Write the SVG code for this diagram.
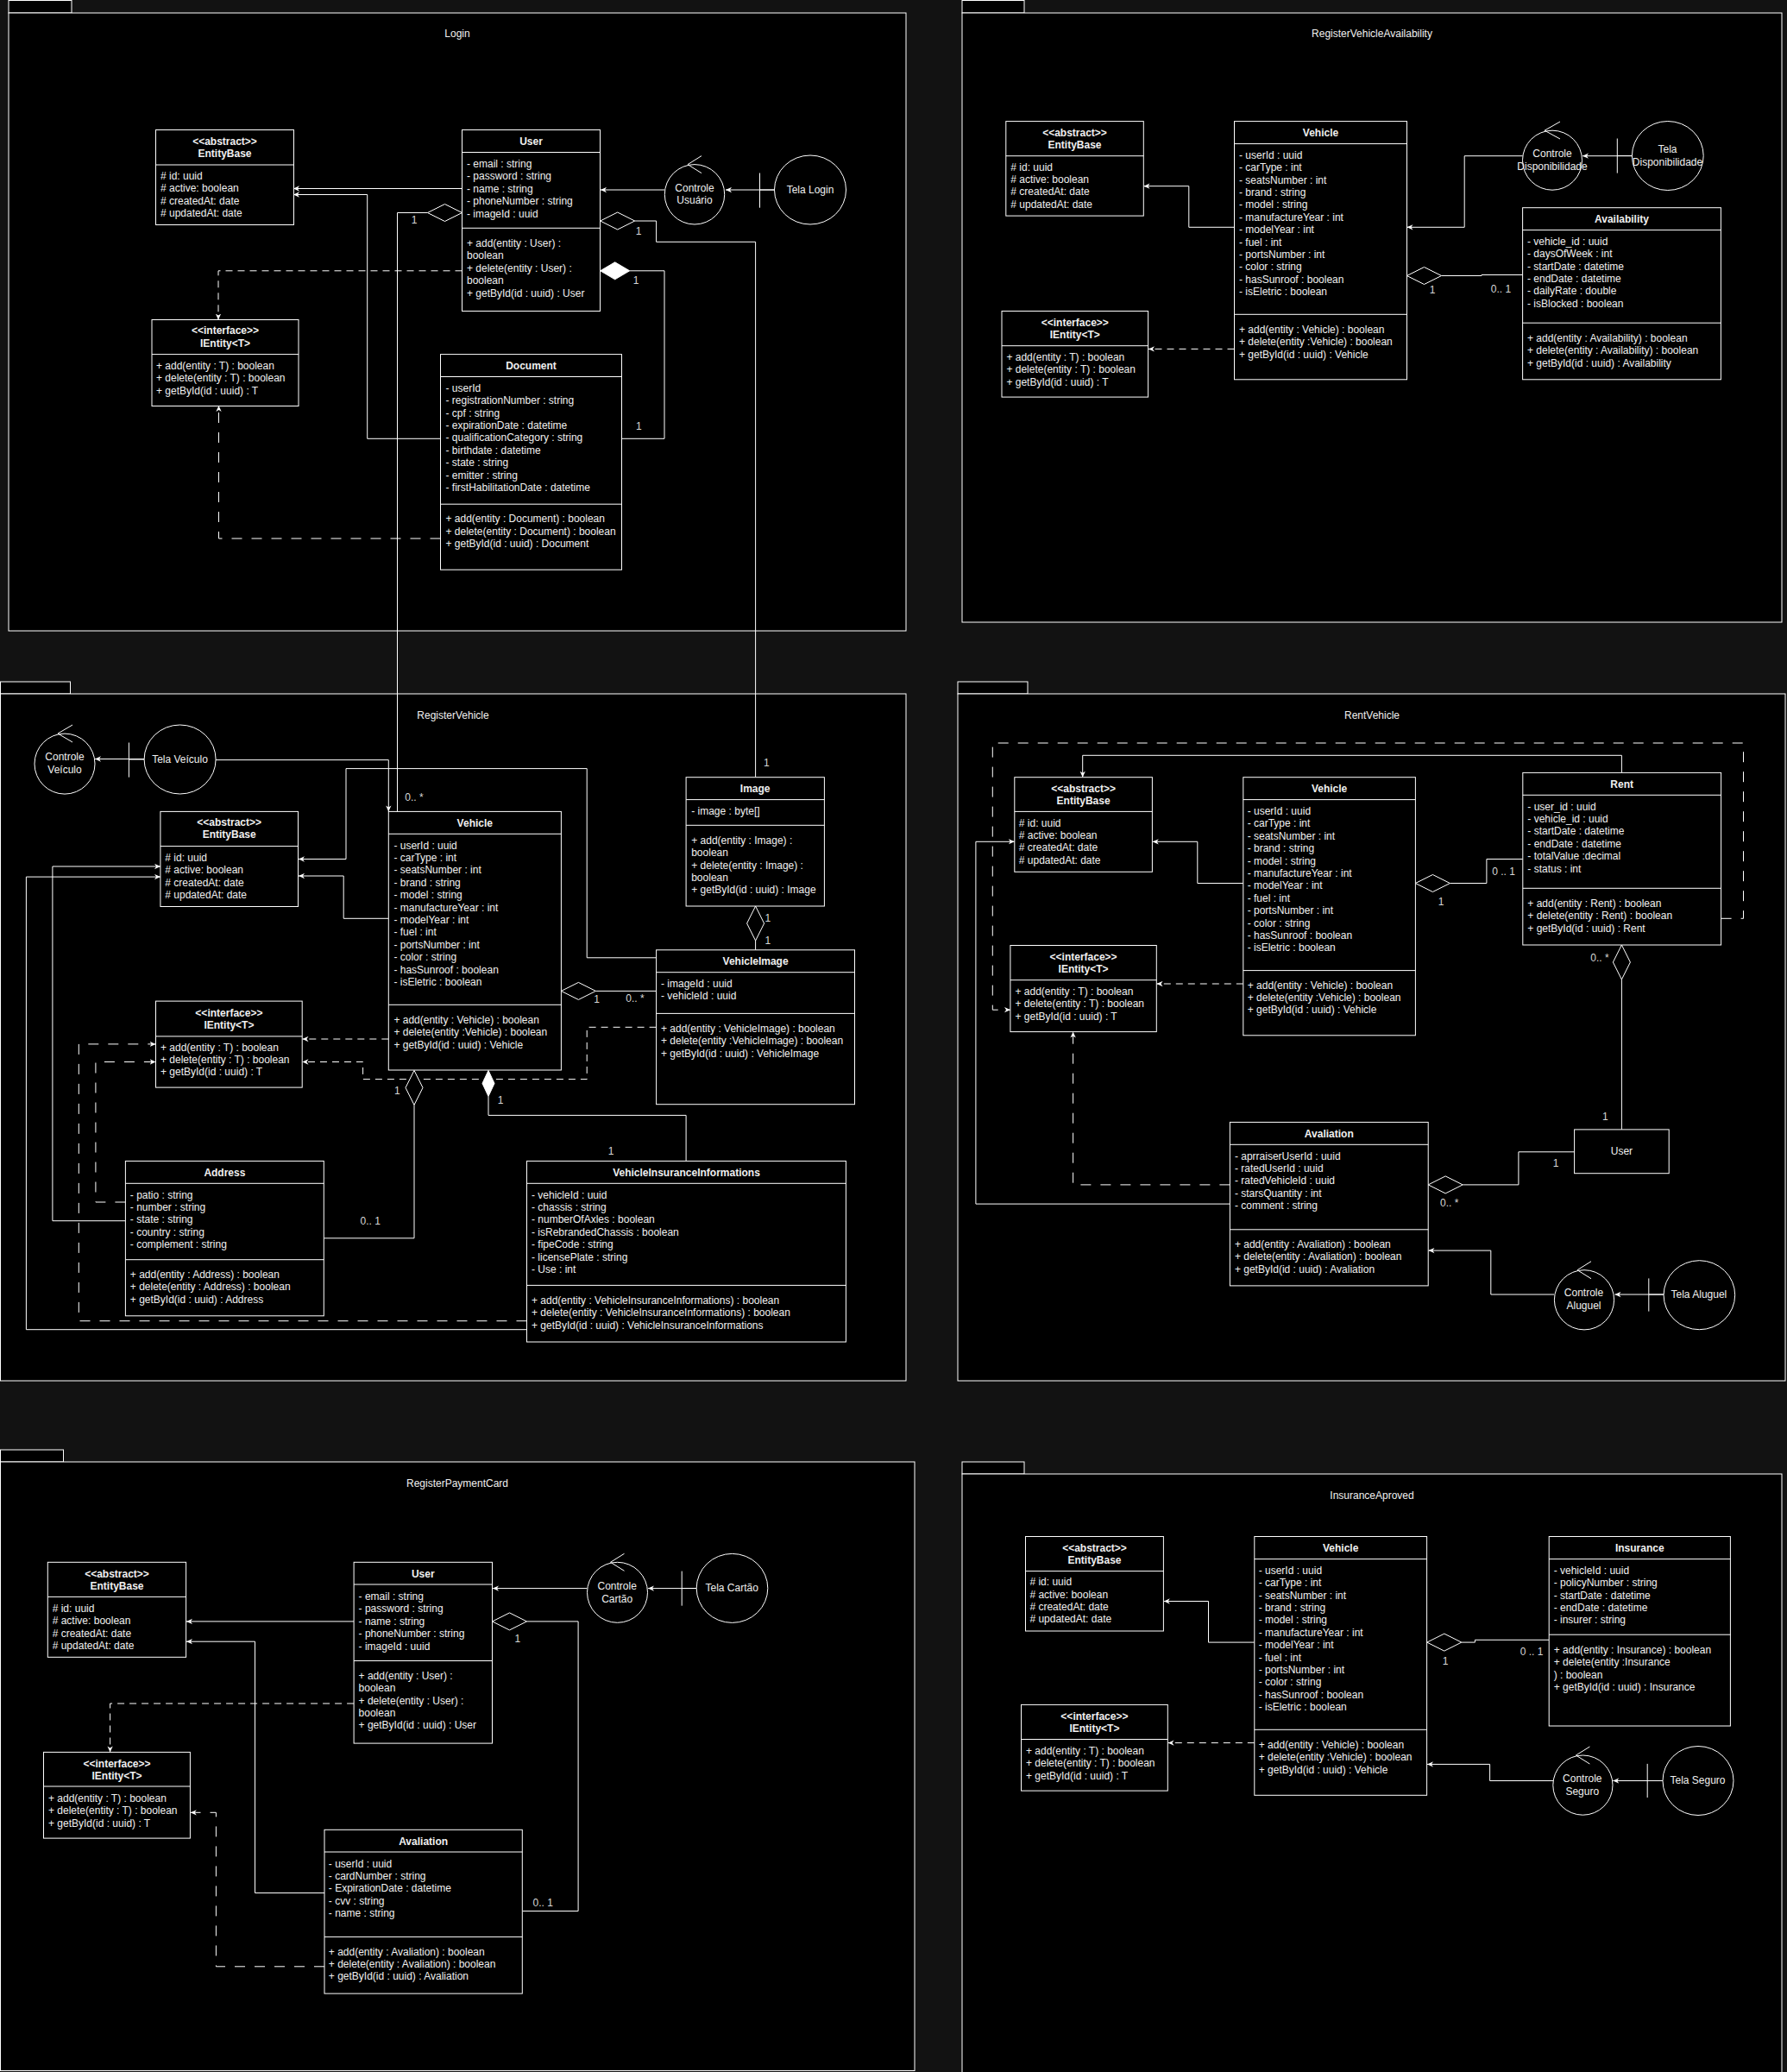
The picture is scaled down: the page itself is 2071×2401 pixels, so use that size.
<svg xmlns="http://www.w3.org/2000/svg" width="2071" height="2401" viewBox="0 0 2071 2401">
<defs>
<style>
.t{font-family:"Liberation Sans",Arial,Helvetica,sans-serif;font-size:12px;fill:#f0f0f0}
.b{font-weight:bold}
.c{text-anchor:middle}
.pk{fill:#000;stroke:#fff;stroke-width:1}
.box{fill:#000;stroke:#fff;stroke-width:1}
.sep{stroke:#fff;stroke-width:1}
.ln{fill:none;stroke:#fff;stroke-width:1}
.ar{marker-end:url(#arr)}
.d1{stroke-dasharray:8 6}
.d2{stroke-dasharray:12 11}
.dia{fill:#000;stroke:#fff;stroke-width:1}
.fdia{fill:#fff;stroke:#fff;stroke-width:1}
.lbl{font-family:"Liberation Sans",Arial,Helvetica,sans-serif;font-size:12px;fill:#d8d8d8;text-anchor:middle}
</style>
<marker id="arr" viewBox="0 0 10 10" refX="10" refY="5" markerWidth="7" markerHeight="7" orient="auto" markerUnits="userSpaceOnUse">
<path d="M0,0.5 L10,5 L0,9.5 L3,5 Z" fill="#fff"/>
</marker>
</defs>

<rect x="0" y="0" width="2071" height="2401" fill="#121212"/>

<!-- package frames -->
<g id="packages">
<rect class="pk" x="10" y="0.5" width="73" height="14.5"/>
<rect class="pk" x="10" y="15" width="1040" height="716"/>
<rect class="pk" x="1115" y="0.5" width="72" height="14.5"/>
<rect class="pk" x="1115" y="15" width="950" height="706"/>
<rect class="pk" x="0.5" y="790" width="81" height="14"/>
<rect class="pk" x="0.5" y="804" width="1049.5" height="796"/>
<rect class="pk" x="1110" y="790" width="81" height="14"/>
<rect class="pk" x="1110" y="804" width="959" height="796"/>
<rect class="pk" x="0.5" y="1680" width="73" height="14"/>
<rect class="pk" x="0.5" y="1694" width="1059.5" height="705.5"/>
<rect class="pk" x="1115" y="1694" width="72" height="14"/>
<rect class="pk" x="1115" y="1708" width="950" height="720"/>
<text class="t c" x="530" y="43">Login</text>
<text class="t c" x="1590" y="43">RegisterVehicleAvailability</text>
<text class="t c" x="525" y="833">RegisterVehicle</text>
<text class="t c" x="1590" y="833">RentVehicle</text>
<text class="t c" x="530" y="1723">RegisterPaymentCard</text>
<text class="t c" x="1590" y="1737">InsuranceAproved</text>
</g>

<!-- connectors -->
<g id="connectors">
<!-- Login -->
<path class="ln ar" d="M535.5,218.5 H340"/>
<path class="ln ar" d="M510.5,508.3 H425.7 V225.5 H340"/>
<path class="ln d1 ar" d="M535.5,313.8 H253 V370.5"/>
<path class="ln d2 ar" d="M510.5,624 H253.5 V470"/>
<polygon class="dia" points="535.5,246.5 515.5,236.5 495.5,246.5 515.5,256.5"/>
<path class="ln" d="M495.5,246.5 H460.5 V940.4"/>
<polygon class="dia" points="695.7,256 715.7,246 735.7,256 715.7,266"/>
<path class="ln" d="M735.7,256 H760.6 V280.3 H875.6 V900.7"/>
<polygon class="fdia" points="695.7,313.8 712.7,303.8 729.7,313.8 712.7,323.8"/>
<path class="ln" d="M729.7,313.8 H770 V508.3 H720.5"/>
<path class="ln ar" d="M897.5,220 H841"/>
<path class="ln ar" d="M770,220 H696"/>
<text class="lbl" x="480" y="259">1</text>
<text class="lbl" x="740" y="271.6">1</text>
<text class="lbl" x="737" y="328.7">1</text>
<text class="lbl" x="740.4" y="498">1</text>

<!-- RegisterVehicleAvailability -->
<path class="ln ar" d="M1891.4,180.7 H1834"/>
<path class="ln ar" d="M1764.6,180.7 H1697.2 V263.3 H1630.5"/>
<path class="ln ar" d="M1430.5,263.3 H1377.8 V215.7 H1325.5"/>
<path class="ln d1 ar" d="M1430.5,404.4 H1331"/>
<polygon class="dia" points="1630.5,319.5 1650.5,309.5 1670.5,319.5 1650.5,329.5"/>
<path class="ln" d="M1670.5,319.5 H1717 V318.5 H1765"/>
<text class="lbl" x="1660" y="339.5">1</text>
<text class="lbl" x="1739.4" y="338.6">0.. 1</text>

<!-- RegisterVehicle -->
<path class="ln ar" d="M167.5,879.5 H110"/>
<path class="ln ar" d="M250,880.6 H450.3 V940.4"/>
<path class="ln ar" d="M760.6,1109.8 H680.2 V890.6 H401 V995.5 H346"/>
<path class="ln ar" d="M450.3,1064.3 H398.2 V1015 H346"/>
<path class="ln ar" d="M145.4,1414.7 H60.9 V1004 H186"/>
<path class="ln ar" d="M610.5,1540.7 H30.4 V1016.1 H186"/>
<path class="ln d2 ar" d="M610.5,1530.7 H91.3 V1209.9 H180.5"/>
<path class="ln d2 ar" d="M145.4,1393 H110.9 V1230.5 H180.5"/>
<path class="ln d1 ar" d="M450.3,1204 H350.5"/>
<path class="ln d1 ar" d="M760.6,1190.3 H680.2 V1250.6 H420.6 V1230.5 H350.5"/>
<polygon class="dia" points="480,1240.4 490,1260.4 480,1280.4 470,1260.4"/>
<path class="ln" d="M480,1280.4 V1434.8 H375.4"/>
<polygon class="fdia" points="566,1240.4 573,1255.4 566,1270.4 559,1255.4"/>
<path class="ln" d="M566,1270.4 V1292.4 H795.1 V1345.4"/>
<polygon class="dia" points="650.4,1148.4 670.4,1138.4 690.4,1148.4 670.4,1158.4"/>
<path class="ln" d="M690.4,1148.4 H760.6"/>
<polygon class="dia" points="875.6,1050 885.6,1070 875.6,1090 865.6,1070"/>
<path class="ln" d="M875.6,1090 V1100.8"/>
<text class="lbl" x="480" y="928">0.. *</text>
<text class="lbl" x="888.4" y="888.3">1</text>
<text class="lbl" x="460.4" y="1268.4">1</text>
<text class="lbl" x="429.3" y="1418.7">0.. 1</text>
<text class="lbl" x="580" y="1279">1</text>
<text class="lbl" x="708" y="1338.3">1</text>
<text class="lbl" x="691.5" y="1161.5">1</text>
<text class="lbl" x="736" y="1161">0.. *</text>
<text class="lbl" x="889.8" y="1068.3">1</text>
<text class="lbl" x="889.8" y="1093.7">1</text>

<!-- RentVehicle -->
<path class="ln ar" d="M1928,1500 H1871.5"/>
<path class="ln ar" d="M1801,1500 H1727.8 V1449.1 H1655.5"/>
<path class="ln ar" d="M1440.8,1023.5 H1387.8 V975.3 H1335.8"/>
<path class="ln ar" d="M1879.4,895.4 V875.3 H1254.7 V900.7"/>
<path class="ln d2 ar" d="M1994.6,1064.3 H2020.5 V861 H1150.3 V1170.2 H1171"/>
<path class="ln ar" d="M1425.4,1395.1 H1130.9 V975.3 H1175.8"/>
<path class="ln d2 ar" d="M1425.4,1372.9 H1243.6 V1195.6"/>
<path class="ln d1 ar" d="M1440.8,1140 H1340.6"/>
<polygon class="dia" points="1640.4,1023.5 1660.4,1013.5 1680.4,1023.5 1660.4,1033.5"/>
<path class="ln" d="M1680.4,1023.5 H1722.9 V995.5 H1764.8"/>
<polygon class="dia" points="1879.4,1095 1889.4,1115 1879.4,1135 1869.4,1115"/>
<path class="ln" d="M1879.4,1135 V1308.9"/>
<polygon class="dia" points="1655.2,1372.9 1675.2,1362.9 1695.2,1372.9 1675.2,1382.9"/>
<path class="ln" d="M1695.2,1372.9 H1759.9 V1334.8 H1824.6"/>
<text class="lbl" x="1670" y="1048.7">1</text>
<text class="lbl" x="1742.6" y="1013.8">0 .. 1</text>
<text class="lbl" x="1854" y="1114.3">0.. *</text>
<text class="lbl" x="1860.3" y="1298">1</text>
<text class="lbl" x="1679.8" y="1398">0.. *</text>
<text class="lbl" x="1803" y="1352">1</text>

<!-- RegisterPaymentCard -->
<path class="ln ar" d="M807.3,1840.6 H751"/>
<path class="ln ar" d="M680.4,1840.6 H571"/>
<path class="ln ar" d="M410.1,1878.9 H216"/>
<path class="ln ar" d="M376,2193.5 H295.5 V1902.2 H216"/>
<path class="ln d1 ar" d="M410.1,1974 H127.6 V2030.4"/>
<path class="ln d2 ar" d="M376,2278.8 H250.4 V2100.3 H220.8"/>
<polygon class="dia" points="570.5,1878.9 590.5,1868.9 610.5,1878.9 590.5,1888.9"/>
<path class="ln" d="M610.5,1878.9 H670.1 V2214.5 H605.3"/>
<text class="lbl" x="599.8" y="1903.4">1</text>
<text class="lbl" x="629.2" y="2208.7">0.. 1</text>

<!-- InsuranceAproved -->
<path class="ln ar" d="M1927,2063.5 H1869.3"/>
<path class="ln ar" d="M1800,2063.5 H1726.6 V2044.4 H1654"/>
<path class="ln ar" d="M1453.8,1903.1 H1400.5 V1855.5 H1348.8"/>
<path class="ln d1 ar" d="M1453.8,2019.6 H1353.6"/>
<polygon class="dia" points="1653.8,1903.1 1673.8,1893.1 1693.8,1903.1 1673.8,1913.1"/>
<path class="ln" d="M1693.8,1903.1 H1709.4 V1900.3 H1795.2"/>
<text class="lbl" x="1675" y="1928.5">1</text>
<text class="lbl" x="1775" y="1918.3">0 .. 1</text>
</g>

<!-- ===== Login ===== -->
<g id="login-entitybase">
<rect class="box" x="180.5" y="150.5" width="160" height="110"/>
<line class="sep" x1="180.5" y1="191" x2="340.5" y2="191"/>
<text class="t b c" x="260.5" y="168">&lt;&lt;abstract&gt;&gt;</text>
<text class="t b c" x="260.5" y="182">EntityBase</text>
<text class="t" x="186" y="208"><tspan x="186"># id: uuid</tspan><tspan x="186" dy="14.4"># active: boolean</tspan><tspan x="186" dy="14.4"># createdAt: date</tspan><tspan x="186" dy="14.4"># updatedAt: date</tspan></text>
</g>
<g id="login-user">
<rect class="box" x="535.5" y="150.5" width="160" height="210"/>
<line class="sep" x1="535.5" y1="176.5" x2="695.5" y2="176.5"/>
<line class="sep" x1="535.5" y1="264.3" x2="695.5" y2="264.3"/>
<text class="t b c" x="615.5" y="168">User</text>
<text class="t" x="541" y="194"><tspan x="541">- email : string</tspan><tspan x="541" dy="14.4">- password : string</tspan><tspan x="541" dy="14.4">- name : string</tspan><tspan x="541" dy="14.4">- phoneNumber : string</tspan><tspan x="541" dy="14.4">- imageId : uuid</tspan></text>
<text class="t" x="541" y="286"><tspan x="541">+ add(entity : User) :</tspan><tspan x="541" dy="14.4">boolean</tspan><tspan x="541" dy="14.4">+ delete(entity : User) :</tspan><tspan x="541" dy="14.4">boolean</tspan><tspan x="541" dy="14.4">+ getById(id : uuid) : User</tspan></text>
</g>
<g id="login-ientity">
<rect class="box" x="176" y="370.5" width="170" height="100"/>
<line class="sep" x1="176" y1="410.6" x2="346" y2="410.6"/>
<text class="t b c" x="261" y="387">&lt;&lt;interface&gt;&gt;</text>
<text class="t b c" x="261" y="401.5">IEntity&lt;T&gt;</text>
<text class="t" x="181" y="428"><tspan x="181">+ add(entity : T) : boolean</tspan><tspan x="181" dy="14.4">+ delete(entity : T) : boolean</tspan><tspan x="181" dy="14.4">+ getById(id : uuid) : T</tspan></text>
</g>
<g id="login-document">
<rect class="box" x="510.5" y="410.6" width="210" height="249.6"/>
<line class="sep" x1="510.5" y1="436.5" x2="720.5" y2="436.5"/>
<line class="sep" x1="510.5" y1="584.2" x2="720.5" y2="584.2"/>
<text class="t b c" x="615.5" y="428">Document</text>
<text class="t" x="516.5" y="453.7"><tspan x="516.5">- userId</tspan><tspan x="516.5" dy="14.4">- registrationNumber : string</tspan><tspan x="516.5" dy="14.4">- cpf : string</tspan><tspan x="516.5" dy="14.4">- expirationDate : datetime</tspan><tspan x="516.5" dy="14.4">- qualificationCategory : string</tspan><tspan x="516.5" dy="14.4">- birthdate : datetime</tspan><tspan x="516.5" dy="14.4">- state : string</tspan><tspan x="516.5" dy="14.4">- emitter : string</tspan><tspan x="516.5" dy="14.4">- firstHabilitationDate : datetime</tspan></text>
<text class="t" x="516.5" y="605.2"><tspan x="516.5">+ add(entity : Document) : boolean</tspan><tspan x="516.5" dy="14.4">+ delete(entity : Document) : boolean</tspan><tspan x="516.5" dy="14.4">+ getById(id : uuid) : Document</tspan></text>
</g>
<g id="login-controle-usuario">
<circle class="box" cx="805" cy="225.3" r="34.7"/>
<polyline class="ln" points="813,180.6 797,190.6 813,200.6"/>
<text class="t c" x="805" y="221.6">Controle</text>
<text class="t c" x="805" y="236.2">Usuário</text>
</g>
<g id="login-tela-login">
<ellipse class="box" cx="939" cy="220" rx="41.5" ry="40"/>
<line class="ln" x1="880.5" y1="200.5" x2="880.5" y2="240.7"/>
<line class="ln" x1="880.5" y1="220" x2="897.5" y2="220"/>
<text class="t c" x="939" y="224">Tela Login</text>
</g>

<!-- ===== RegisterVehicleAvailability ===== -->
<g id="rva-entitybase">
<rect class="box" x="1165.8" y="140.6" width="159.5" height="109.5"/>
<line class="sep" x1="1165.8" y1="180.7" x2="1325.3" y2="180.7"/>
<text class="t b c" x="1245.5" y="157.8">&lt;&lt;abstract&gt;&gt;</text>
<text class="t b c" x="1245.5" y="171.5">EntityBase</text>
<text class="t" x="1171.3" y="197.5"><tspan x="1171.3"># id: uuid</tspan><tspan x="1171.3" dy="14.4"># active: boolean</tspan><tspan x="1171.3" dy="14.4"># createdAt: date</tspan><tspan x="1171.3" dy="14.4"># updatedAt: date</tspan></text>
</g>
<g id="rva-vehicle">
<rect class="box" x="1430.5" y="140.6" width="200" height="299.2"/>
<line class="sep" x1="1430.5" y1="166.6" x2="1630.5" y2="166.6"/>
<line class="sep" x1="1430.5" y1="364.3" x2="1630.5" y2="364.3"/>
<text class="t b c" x="1530.5" y="157.8">Vehicle</text>
<text class="t" x="1436" y="183.8"><tspan x="1436">- userId : uuid</tspan><tspan x="1436" dy="14.4">- carType : int</tspan><tspan x="1436" dy="14.4">- seatsNumber : int</tspan><tspan x="1436" dy="14.4">- brand : string</tspan><tspan x="1436" dy="14.4">- model : string</tspan><tspan x="1436" dy="14.4">- manufactureYear : int</tspan><tspan x="1436" dy="14.4">- modelYear : int</tspan><tspan x="1436" dy="14.4">- fuel : int</tspan><tspan x="1436" dy="14.4">- portsNumber : int</tspan><tspan x="1436" dy="14.4">- color : string</tspan><tspan x="1436" dy="14.4">- hasSunroof : boolean</tspan><tspan x="1436" dy="14.4">- isEletric : boolean</tspan></text>
<text class="t" x="1436" y="385.8"><tspan x="1436">+ add(entity : Vehicle) : boolean</tspan><tspan x="1436" dy="14.4">+ delete(entity :Vehicle) : boolean</tspan><tspan x="1436" dy="14.4">+ getById(id : uuid) : Vehicle</tspan></text>
</g>
<g id="rva-ientity">
<rect class="box" x="1161" y="360.5" width="169.6" height="99.6"/>
<line class="sep" x1="1161" y1="400.7" x2="1330.6" y2="400.7"/>
<text class="t b c" x="1245.8" y="377.8">&lt;&lt;interface&gt;&gt;</text>
<text class="t b c" x="1245.8" y="391.9">IEntity&lt;T&gt;</text>
<text class="t" x="1166.4" y="417.9"><tspan x="1166.4">+ add(entity : T) : boolean</tspan><tspan x="1166.4" dy="14.4">+ delete(entity : T) : boolean</tspan><tspan x="1166.4" dy="14.4">+ getById(id : uuid) : T</tspan></text>
</g>
<g id="rva-availability">
<rect class="box" x="1764.6" y="240.7" width="229.8" height="199.1"/>
<line class="sep" x1="1764.6" y1="266.6" x2="1994.4" y2="266.6"/>
<line class="sep" x1="1764.6" y1="374.2" x2="1994.4" y2="374.2"/>
<text class="t b c" x="1879.5" y="257.9">Availability</text>
<text class="t" x="1770" y="283.8"><tspan x="1770">- vehicle_id : uuid</tspan><tspan x="1770" dy="14.4">- daysOfWeek : int</tspan><tspan x="1770" dy="14.4">- startDate : datetime</tspan><tspan x="1770" dy="14.4">- endDate : datetime</tspan><tspan x="1770" dy="14.4">- dailyRate : double</tspan><tspan x="1770" dy="14.4">- isBlocked : boolean</tspan></text>
<text class="t" x="1770" y="395.7"><tspan x="1770">+ add(entity : Availability) : boolean</tspan><tspan x="1770" dy="14.4">+ delete(entity : Availability) : boolean</tspan><tspan x="1770" dy="14.4">+ getById(id : uuid) : Availability</tspan></text>
</g>
<g id="rva-controle-disponibilidade">
<circle class="box" cx="1799" cy="185.7" r="34.5"/>
<polyline class="ln" points="1808,141 1790,151.2 1808,161"/>
<text class="t c" x="1799" y="181.9">Controle</text>
<text class="t c" x="1799" y="196.5">Disponibilidade</text>
</g>
<g id="rva-tela-disponibilidade">
<ellipse class="box" cx="1932.8" cy="180.5" rx="41.4" ry="40"/>
<line class="ln" x1="1874.3" y1="160.5" x2="1874.3" y2="200.6"/>
<line class="ln" x1="1874.3" y1="180.5" x2="1891.4" y2="180.5"/>
<text class="t c" x="1932.5" y="176.7">Tela</text>
<text class="t c" x="1932.5" y="191.8">Disponibilidade</text>
</g>

<!-- ===== RegisterVehicle ===== -->
<g id="rv-controle-veiculo">
<circle class="box" cx="75" cy="885.1" r="35"/>
<polyline class="ln" points="84,840 67,850 84,860"/>
<text class="t c" x="75" y="881.4">Controle</text>
<text class="t c" x="75" y="896.2">Veículo</text>
</g>
<g id="rv-tela-veiculo">
<ellipse class="box" cx="208.6" cy="880" rx="41.5" ry="40"/>
<line class="ln" x1="149.4" y1="860.5" x2="149.4" y2="900.7"/>
<line class="ln" x1="149.4" y1="880" x2="167.1" y2="880"/>
<text class="t c" x="208.5" y="883.5">Tela Veículo</text>
</g>
<g id="rv-entitybase">
<rect class="box" x="185.9" y="940.4" width="159.6" height="110.1"/>
<line class="sep" x1="185.9" y1="980.6" x2="345.5" y2="980.6"/>
<text class="t b c" x="265.7" y="957.1">&lt;&lt;abstract&gt;&gt;</text>
<text class="t b c" x="265.7" y="971.4">EntityBase</text>
<text class="t" x="191.3" y="997.9"><tspan x="191.3"># id: uuid</tspan><tspan x="191.3" dy="14.4"># active: boolean</tspan><tspan x="191.3" dy="14.4"># createdAt: date</tspan><tspan x="191.3" dy="14.4"># updatedAt: date</tspan></text>
</g>
<g id="rv-vehicle">
<rect class="box" x="450.3" y="940.4" width="200.1" height="299.6"/>
<line class="sep" x1="450.3" y1="966.3" x2="650.4" y2="966.3"/>
<line class="sep" x1="450.3" y1="1164.3" x2="650.4" y2="1164.3"/>
<text class="t b c" x="550.3" y="957.6">Vehicle</text>
<text class="t" x="456.4" y="983.6"><tspan x="456.4">- userId : uuid</tspan><tspan x="456.4" dy="14.4">- carType : int</tspan><tspan x="456.4" dy="14.4">- seatsNumber : int</tspan><tspan x="456.4" dy="14.4">- brand : string</tspan><tspan x="456.4" dy="14.4">- model : string</tspan><tspan x="456.4" dy="14.4">- manufactureYear : int</tspan><tspan x="456.4" dy="14.4">- modelYear : int</tspan><tspan x="456.4" dy="14.4">- fuel : int</tspan><tspan x="456.4" dy="14.4">- portsNumber : int</tspan><tspan x="456.4" dy="14.4">- color : string</tspan><tspan x="456.4" dy="14.4">- hasSunroof : boolean</tspan><tspan x="456.4" dy="14.4">- isEletric : boolean</tspan></text>
<text class="t" x="456.4" y="1185.8"><tspan x="456.4">+ add(entity : Vehicle) : boolean</tspan><tspan x="456.4" dy="14.4">+ delete(entity :Vehicle) : boolean</tspan><tspan x="456.4" dy="14.4">+ getById(id : uuid) : Vehicle</tspan></text>
</g>
<g id="rv-image">
<rect class="box" x="795.1" y="900.7" width="160.3" height="149.3"/>
<line class="sep" x1="795.1" y1="926.6" x2="955.4" y2="926.6"/>
<line class="sep" x1="795.1" y1="956.3" x2="955.4" y2="956.3"/>
<text class="t b c" x="875.2" y="917.9">Image</text>
<text class="t" x="801.2" y="943.9">- image : byte[]</text>
<text class="t" x="801.2" y="977.8"><tspan x="801.2">+ add(entity : Image) :</tspan><tspan x="801.2" dy="14.4">boolean</tspan><tspan x="801.2" dy="14.4">+ delete(entity : Image) :</tspan><tspan x="801.2" dy="14.4">boolean</tspan><tspan x="801.2" dy="14.4">+ getById(id : uuid) : Image</tspan></text>
</g>
<g id="rv-vehicleimage">
<rect class="box" x="760.6" y="1100.8" width="229.9" height="178.9"/>
<line class="sep" x1="760.6" y1="1126.7" x2="990.5" y2="1126.7"/>
<line class="sep" x1="760.6" y1="1174.4" x2="990.5" y2="1174.4"/>
<text class="t b c" x="875.6" y="1118">VehicleImage</text>
<text class="t" x="766" y="1144"><tspan x="766">- imageId : uuid</tspan><tspan x="766" dy="14.4">- vehicleId : uuid</tspan></text>
<text class="t" x="766" y="1195.9"><tspan x="766">+ add(entity : VehicleImage) : boolean</tspan><tspan x="766" dy="14.4">+ delete(entity :VehicleImage) : boolean</tspan><tspan x="766" dy="14.4">+ getById(id : uuid) : VehicleImage</tspan></text>
</g>
<g id="rv-ientity">
<rect class="box" x="180.5" y="1160.1" width="169.7" height="100"/>
<line class="sep" x1="180.5" y1="1200.9" x2="350.2" y2="1200.9"/>
<text class="t b c" x="265.4" y="1177.9">&lt;&lt;interface&gt;&gt;</text>
<text class="t b c" x="265.4" y="1191.6">IEntity&lt;T&gt;</text>
<text class="t" x="186" y="1217.6"><tspan x="186">+ add(entity : T) : boolean</tspan><tspan x="186" dy="14.4">+ delete(entity : T) : boolean</tspan><tspan x="186" dy="14.4">+ getById(id : uuid) : T</tspan></text>
</g>
<g id="rv-address">
<rect class="box" x="145.4" y="1345.4" width="229.9" height="179.4"/>
<line class="sep" x1="145.4" y1="1371.3" x2="375.3" y2="1371.3"/>
<line class="sep" x1="145.4" y1="1459.7" x2="375.3" y2="1459.7"/>
<text class="t b c" x="260.4" y="1362.6">Address</text>
<text class="t" x="150.8" y="1388.5"><tspan x="150.8">- patio : string</tspan><tspan x="150.8" dy="14.4">- number : string</tspan><tspan x="150.8" dy="14.4">- state : string</tspan><tspan x="150.8" dy="14.4">- country : string</tspan><tspan x="150.8" dy="14.4">- complement : string</tspan></text>
<text class="t" x="150.8" y="1480.7"><tspan x="150.8">+ add(entity : Address) : boolean</tspan><tspan x="150.8" dy="14.4">+ delete(entity : Address) : boolean</tspan><tspan x="150.8" dy="14.4">+ getById(id : uuid) : Address</tspan></text>
</g>
<g id="rv-vehicleinsuranceinformations">
<rect class="box" x="610.5" y="1345.4" width="369.9" height="209.6"/>
<line class="sep" x1="610.5" y1="1371.3" x2="980.4" y2="1371.3"/>
<line class="sep" x1="610.5" y1="1489.4" x2="980.4" y2="1489.4"/>
<text class="t b c" x="795.5" y="1362.6">VehicleInsuranceInformations</text>
<text class="t" x="616" y="1388.5"><tspan x="616">- vehicleId : uuid</tspan><tspan x="616" dy="14.4">- chassis : string</tspan><tspan x="616" dy="14.4">- numberOfAxles : boolean</tspan><tspan x="616" dy="14.4">- isRebrandedChassis : boolean</tspan><tspan x="616" dy="14.4">- fipeCode : string</tspan><tspan x="616" dy="14.4">- licensePlate : string</tspan><tspan x="616" dy="14.4">- Use : int</tspan></text>
<text class="t" x="616" y="1510.8"><tspan x="616">+ add(entity : VehicleInsuranceInformations) : boolean</tspan><tspan x="616" dy="14.4">+ delete(entity : VehicleInsuranceInformations) : boolean</tspan><tspan x="616" dy="14.4">+ getById(id : uuid) : VehicleInsuranceInformations</tspan></text>
</g>

<!-- ===== RentVehicle ===== -->
<g id="rent-entitybase">
<rect class="box" x="1175.8" y="900.7" width="159.6" height="109.6"/>
<line class="sep" x1="1175.8" y1="940.4" x2="1335.4" y2="940.4"/>
<text class="t b c" x="1255.6" y="917.9">&lt;&lt;abstract&gt;&gt;</text>
<text class="t b c" x="1255.6" y="931.7">EntityBase</text>
<text class="t" x="1180.8" y="957.6"><tspan x="1180.8"># id: uuid</tspan><tspan x="1180.8" dy="14.4"># active: boolean</tspan><tspan x="1180.8" dy="14.4"># createdAt: date</tspan><tspan x="1180.8" dy="14.4"># updatedAt: date</tspan></text>
</g>
<g id="rent-vehicle">
<rect class="box" x="1440.8" y="900.7" width="199.6" height="299.1"/>
<line class="sep" x1="1440.8" y1="926.6" x2="1640.4" y2="926.6"/>
<line class="sep" x1="1440.8" y1="1124.6" x2="1640.4" y2="1124.6"/>
<text class="t b c" x="1540.6" y="917.9">Vehicle</text>
<text class="t" x="1445.7" y="943.9"><tspan x="1445.7">- userId : uuid</tspan><tspan x="1445.7" dy="14.4">- carType : int</tspan><tspan x="1445.7" dy="14.4">- seatsNumber : int</tspan><tspan x="1445.7" dy="14.4">- brand : string</tspan><tspan x="1445.7" dy="14.4">- model : string</tspan><tspan x="1445.7" dy="14.4">- manufactureYear : int</tspan><tspan x="1445.7" dy="14.4">- modelYear : int</tspan><tspan x="1445.7" dy="14.4">- fuel : int</tspan><tspan x="1445.7" dy="14.4">- portsNumber : int</tspan><tspan x="1445.7" dy="14.4">- color : string</tspan><tspan x="1445.7" dy="14.4">- hasSunroof : boolean</tspan><tspan x="1445.7" dy="14.4">- isEletric : boolean</tspan></text>
<text class="t" x="1445.7" y="1145.6"><tspan x="1445.7">+ add(entity : Vehicle) : boolean</tspan><tspan x="1445.7" dy="14.4">+ delete(entity :Vehicle) : boolean</tspan><tspan x="1445.7" dy="14.4">+ getById(id : uuid) : Vehicle</tspan></text>
</g>
<g id="rent-rent">
<rect class="box" x="1764.8" y="895.4" width="229.8" height="199.6"/>
<line class="sep" x1="1764.8" y1="921.3" x2="1994.6" y2="921.3"/>
<line class="sep" x1="1764.8" y1="1029.3" x2="1994.6" y2="1029.3"/>
<text class="t b c" x="1879.7" y="912.6">Rent</text>
<text class="t" x="1770.3" y="938.6"><tspan x="1770.3">- user_id : uuid</tspan><tspan x="1770.3" dy="14.4">- vehicle_id : uuid</tspan><tspan x="1770.3" dy="14.4">- startDate : datetime</tspan><tspan x="1770.3" dy="14.4">- endDate : datetime</tspan><tspan x="1770.3" dy="14.4">- totalValue :decimal</tspan><tspan x="1770.3" dy="14.4">- status : int</tspan></text>
<text class="t" x="1770.3" y="1050.8"><tspan x="1770.3">+ add(entity : Rent) : boolean</tspan><tspan x="1770.3" dy="14.4">+ delete(entity : Rent) : boolean</tspan><tspan x="1770.3" dy="14.4">+ getById(id : uuid) : Rent</tspan></text>
</g>
<g id="rent-ientity">
<rect class="box" x="1170.9" y="1095.5" width="169.4" height="100.1"/>
<line class="sep" x1="1170.9" y1="1135.7" x2="1340.3" y2="1135.7"/>
<text class="t b c" x="1255.6" y="1112.7">&lt;&lt;interface&gt;&gt;</text>
<text class="t b c" x="1255.6" y="1127">IEntity&lt;T&gt;</text>
<text class="t" x="1176.5" y="1153"><tspan x="1176.5">+ add(entity : T) : boolean</tspan><tspan x="1176.5" dy="14.4">+ delete(entity : T) : boolean</tspan><tspan x="1176.5" dy="14.4">+ getById(id : uuid) : T</tspan></text>
</g>
<g id="rent-avaliation">
<rect class="box" x="1425.4" y="1300.4" width="229.8" height="189.5"/>
<line class="sep" x1="1425.4" y1="1326.3" x2="1655.2" y2="1326.3"/>
<line class="sep" x1="1425.4" y1="1424.8" x2="1655.2" y2="1424.8"/>
<text class="t b c" x="1540.3" y="1317.6">Avaliation</text>
<text class="t" x="1430.9" y="1343.6"><tspan x="1430.9">- aprraiserUserId : uuid</tspan><tspan x="1430.9" dy="14.4">- ratedUserId : uuid</tspan><tspan x="1430.9" dy="14.4">- ratedVehicleId : uuid</tspan><tspan x="1430.9" dy="14.4">- starsQuantity : int</tspan><tspan x="1430.9" dy="14.4">- comment : string</tspan></text>
<text class="t" x="1430.9" y="1445.7"><tspan x="1430.9">+ add(entity : Avaliation) : boolean</tspan><tspan x="1430.9" dy="14.4">+ delete(entity : Avaliation) : boolean</tspan><tspan x="1430.9" dy="14.4">+ getById(id : uuid) : Avaliation</tspan></text>
</g>
<g id="rent-user">
<rect class="box" x="1824.6" y="1308.9" width="109.6" height="50.8"/>
<text class="t c" x="1879.4" y="1337.7">User</text>
</g>
<g id="rent-controle-aluguel">
<circle class="box" cx="1836" cy="1506.3" r="34.6"/>
<polyline class="ln" points="1844,1461.7 1828,1471.7 1844,1481.7"/>
<text class="t c" x="1835.5" y="1501.8">Controle</text>
<text class="t c" x="1835.5" y="1516.7">Aluguel</text>
</g>
<g id="rent-tela-aluguel">
<ellipse class="box" cx="1969.4" cy="1500.7" rx="41.3" ry="40"/>
<line class="ln" x1="1910.8" y1="1481.4" x2="1910.8" y2="1519.6"/>
<line class="ln" x1="1910.8" y1="1500" x2="1928.1" y2="1500"/>
<text class="t c" x="1968.9" y="1504">Tela Aluguel</text>
</g>

<!-- ===== RegisterPaymentCard ===== -->
<g id="pay-entitybase">
<rect class="box" x="55.3" y="1810.3" width="160.3" height="110"/>
<line class="sep" x1="55.3" y1="1850.4" x2="215.6" y2="1850.4"/>
<text class="t b c" x="135.5" y="1827.8">&lt;&lt;abstract&gt;&gt;</text>
<text class="t b c" x="135.5" y="1841.8">EntityBase</text>
<text class="t" x="60.7" y="1867.9"><tspan x="60.7"># id: uuid</tspan><tspan x="60.7" dy="14.4"># active: boolean</tspan><tspan x="60.7" dy="14.4"># createdAt: date</tspan><tspan x="60.7" dy="14.4"># updatedAt: date</tspan></text>
</g>
<g id="pay-user">
<rect class="box" x="410.1" y="1810.3" width="160.4" height="209.8"/>
<line class="sep" x1="410.1" y1="1836" x2="570.5" y2="1836"/>
<line class="sep" x1="410.1" y1="1924.5" x2="570.5" y2="1924.5"/>
<text class="t b c" x="490.3" y="1827.8">User</text>
<text class="t" x="415.6" y="1854"><tspan x="415.6">- email : string</tspan><tspan x="415.6" dy="14.4">- password : string</tspan><tspan x="415.6" dy="14.4">- name : string</tspan><tspan x="415.6" dy="14.4">- phoneNumber : string</tspan><tspan x="415.6" dy="14.4">- imageId : uuid</tspan></text>
<text class="t" x="415.6" y="1945.8"><tspan x="415.6">+ add(entity : User) :</tspan><tspan x="415.6" dy="14.4">boolean</tspan><tspan x="415.6" dy="14.4">+ delete(entity : User) :</tspan><tspan x="415.6" dy="14.4">boolean</tspan><tspan x="415.6" dy="14.4">+ getById(id : uuid) : User</tspan></text>
</g>
<g id="pay-ientity">
<rect class="box" x="50.5" y="2030.4" width="169.9" height="99.7"/>
<line class="sep" x1="50.5" y1="2070" x2="220.4" y2="2070"/>
<text class="t b c" x="135.5" y="2047.9">&lt;&lt;interface&gt;&gt;</text>
<text class="t b c" x="135.5" y="2061.9">IEntity&lt;T&gt;</text>
<text class="t" x="56" y="2088"><tspan x="56">+ add(entity : T) : boolean</tspan><tspan x="56" dy="14.4">+ delete(entity : T) : boolean</tspan><tspan x="56" dy="14.4">+ getById(id : uuid) : T</tspan></text>
</g>
<g id="pay-avaliation">
<rect class="box" x="376" y="2120.3" width="229.3" height="189.8"/>
<line class="sep" x1="376" y1="2146" x2="605.3" y2="2146"/>
<line class="sep" x1="376" y1="2244.4" x2="605.3" y2="2244.4"/>
<text class="t b c" x="490.6" y="2137.9">Avaliation</text>
<text class="t" x="380.8" y="2163.5"><tspan x="380.8">- userId : uuid</tspan><tspan x="380.8" dy="14.4">- cardNumber : string</tspan><tspan x="380.8" dy="14.4">- ExpirationDate : datetime</tspan><tspan x="380.8" dy="14.4">- cvv : string</tspan><tspan x="380.8" dy="14.4">- name : string</tspan></text>
<text class="t" x="380.8" y="2265.6"><tspan x="380.8">+ add(entity : Avaliation) : boolean</tspan><tspan x="380.8" dy="14.4">+ delete(entity : Avaliation) : boolean</tspan><tspan x="380.8" dy="14.4">+ getById(id : uuid) : Avaliation</tspan></text>
</g>
<g id="pay-controle-cartao">
<circle class="box" cx="715.5" cy="1845.3" r="35"/>
<polyline class="ln" points="723.5,1800.3 707.5,1810.3 723.5,1820.3"/>
<text class="t c" x="715.2" y="1841.8">Controle</text>
<text class="t c" x="715.2" y="1856.7">Cartão</text>
</g>
<g id="pay-tela-cartao">
<ellipse class="box" cx="848.5" cy="1840.4" rx="41.3" ry="40"/>
<line class="ln" x1="790.2" y1="1820.6" x2="790.2" y2="1860.7"/>
<line class="ln" x1="790.2" y1="1840.5" x2="807.2" y2="1840.5"/>
<text class="t c" x="848.2" y="1843.7">Tela Cartão</text>
</g>

<!-- ===== InsuranceAproved ===== -->
<g id="ins-entitybase">
<rect class="box" x="1188.5" y="1780.5" width="159.9" height="109.5"/>
<line class="sep" x1="1188.5" y1="1820.6" x2="1348.4" y2="1820.6"/>
<text class="t b c" x="1268.5" y="1797.5">&lt;&lt;abstract&gt;&gt;</text>
<text class="t b c" x="1268.5" y="1811.5">EntityBase</text>
<text class="t" x="1193.4" y="1837.2"><tspan x="1193.4"># id: uuid</tspan><tspan x="1193.4" dy="14.4"># active: boolean</tspan><tspan x="1193.4" dy="14.4"># createdAt: date</tspan><tspan x="1193.4" dy="14.4"># updatedAt: date</tspan></text>
</g>
<g id="ins-vehicle">
<rect class="box" x="1453.8" y="1780.5" width="199.8" height="299.8"/>
<line class="sep" x1="1453.8" y1="1806.6" x2="1653.6" y2="1806.6"/>
<line class="sep" x1="1453.8" y1="2004.3" x2="1653.6" y2="2004.3"/>
<text class="t b c" x="1553.7" y="1797.5">Vehicle</text>
<text class="t" x="1458.7" y="1823.7"><tspan x="1458.7">- userId : uuid</tspan><tspan x="1458.7" dy="14.4">- carType : int</tspan><tspan x="1458.7" dy="14.4">- seatsNumber : int</tspan><tspan x="1458.7" dy="14.4">- brand : string</tspan><tspan x="1458.7" dy="14.4">- model : string</tspan><tspan x="1458.7" dy="14.4">- manufactureYear : int</tspan><tspan x="1458.7" dy="14.4">- modelYear : int</tspan><tspan x="1458.7" dy="14.4">- fuel : int</tspan><tspan x="1458.7" dy="14.4">- portsNumber : int</tspan><tspan x="1458.7" dy="14.4">- color : string</tspan><tspan x="1458.7" dy="14.4">- hasSunroof : boolean</tspan><tspan x="1458.7" dy="14.4">- isEletric : boolean</tspan></text>
<text class="t" x="1458.7" y="2026"><tspan x="1458.7">+ add(entity : Vehicle) : boolean</tspan><tspan x="1458.7" dy="14.4">+ delete(entity :Vehicle) : boolean</tspan><tspan x="1458.7" dy="14.4">+ getById(id : uuid) : Vehicle</tspan></text>
</g>
<g id="ins-insurance">
<rect class="box" x="1795.2" y="1780.5" width="210.2" height="219.5"/>
<line class="sep" x1="1795.2" y1="1806.6" x2="2005.4" y2="1806.6"/>
<line class="sep" x1="1795.2" y1="1894.2" x2="2005.4" y2="1894.2"/>
<text class="t b c" x="1900.3" y="1797.5">Insurance</text>
<text class="t" x="1800.7" y="1823.7"><tspan x="1800.7">- vehicleId : uuid</tspan><tspan x="1800.7" dy="14.4">- policyNumber : string</tspan><tspan x="1800.7" dy="14.4">- startDate : datetime</tspan><tspan x="1800.7" dy="14.4">- endDate : datetime</tspan><tspan x="1800.7" dy="14.4">- insurer : string</tspan></text>
<text class="t" x="1800.7" y="1916"><tspan x="1800.7">+ add(entity : Insurance) : boolean</tspan><tspan x="1800.7" dy="14.4">+ delete(entity :Insurance</tspan><tspan x="1800.7" dy="14.4">) : boolean</tspan><tspan x="1800.7" dy="14.4">+ getById(id : uuid) : Insurance</tspan></text>
</g>
<g id="ins-ientity">
<rect class="box" x="1183.5" y="1975.4" width="169.8" height="99.7"/>
<line class="sep" x1="1183.5" y1="2015.5" x2="1353.3" y2="2015.5"/>
<text class="t b c" x="1268.4" y="1992.9">&lt;&lt;interface&gt;&gt;</text>
<text class="t b c" x="1268.4" y="2006.9">IEntity&lt;T&gt;</text>
<text class="t" x="1189" y="2033"><tspan x="1189">+ add(entity : T) : boolean</tspan><tspan x="1189" dy="14.4">+ delete(entity : T) : boolean</tspan><tspan x="1189" dy="14.4">+ getById(id : uuid) : T</tspan></text>
</g>
<g id="ins-controle-seguro">
<circle class="box" cx="1834.4" cy="2068.6" r="34.6"/>
<polyline class="ln" points="1842.4,2024 1826.4,2034 1842.4,2044"/>
<text class="t c" x="1833.8" y="2064.7">Controle</text>
<text class="t c" x="1833.8" y="2079.6">Seguro</text>
</g>
<g id="ins-tela-seguro">
<ellipse class="box" cx="1968" cy="2063.5" rx="41" ry="40"/>
<line class="ln" x1="1909.2" y1="2043.9" x2="1909.2" y2="2083"/>
<line class="ln" x1="1909.2" y1="2063.5" x2="1927" y2="2063.5"/>
<text class="t c" x="1967.5" y="2067">Tela Seguro</text>
</g>
</svg>
